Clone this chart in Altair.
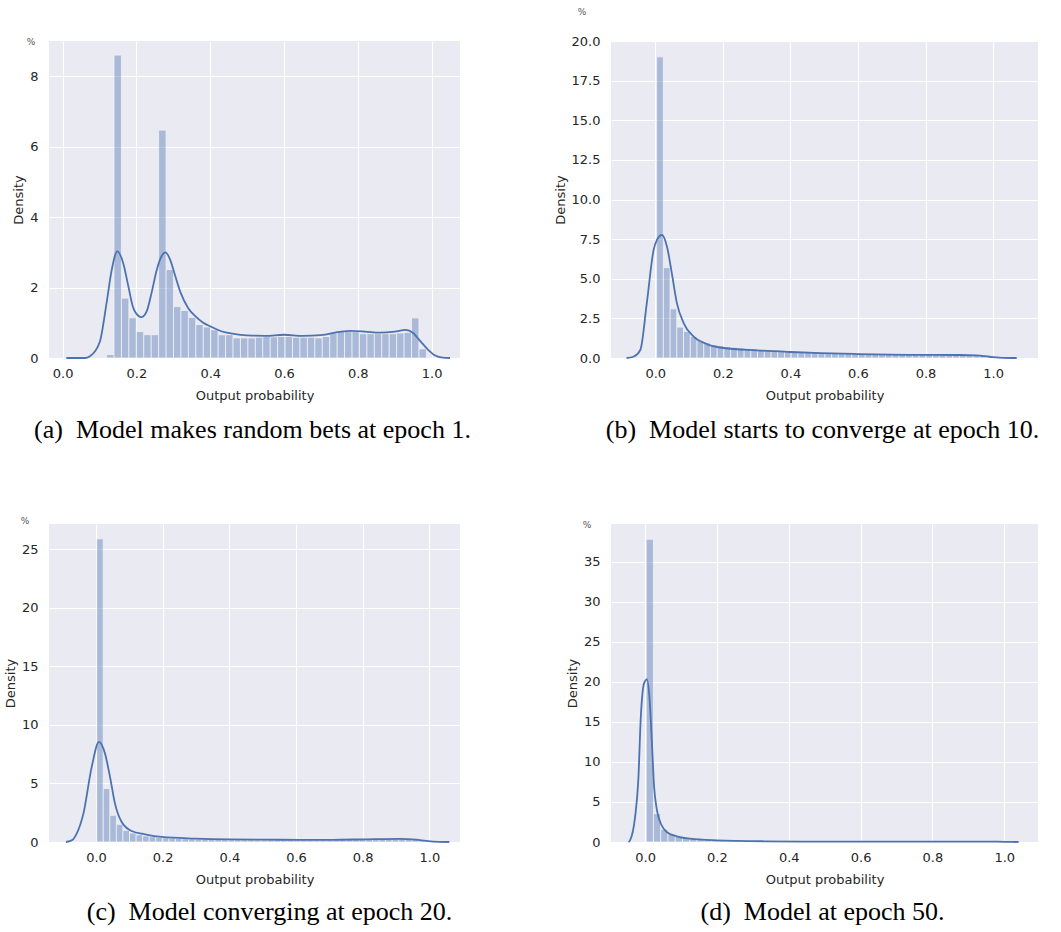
import altair as alt
import pandas as pd

BLUE = "#4C72B0"
BG = "#EAEAF2"
TXT = "#262626"

# ---------------- data ----------------
# (a) epoch 1
a_bin_start = 0.119
a_bin_width = 0.02016
a_heights = [0.10, 8.60, 1.70, 1.14, 0.75, 0.66, 0.66, 6.47, 2.51, 1.46, 1.35, 1.15, 0.95,
             0.88, 0.80, 0.66, 0.66, 0.57, 0.57, 0.57, 0.59, 0.61, 0.60, 0.61, 0.61, 0.59,
             0.59, 0.59, 0.57, 0.61, 0.71, 0.75, 0.75, 0.75, 0.69, 0.69, 0.69, 0.69, 0.69,
             0.71, 0.73, 1.14, 0.26]
a_kde_x = [0.01, 0.06, 0.074, 0.101, 0.119, 0.133, 0.148, 0.164, 0.178, 0.19, 0.205, 0.214,
           0.228, 0.241, 0.255, 0.268, 0.279, 0.291, 0.304, 0.32, 0.34, 0.36, 0.38, 0.40,
           0.43, 0.46, 0.50, 0.55, 0.60, 0.65, 0.70, 0.75, 0.78, 0.82, 0.86, 0.90, 0.93,
           0.95, 0.97, 0.99, 1.01, 1.03, 1.05]
a_kde_y = [0.0, 0.0, 0.05, 0.47, 1.56, 2.5, 3.03, 2.7, 2.04, 1.47, 1.2, 1.16, 1.33, 1.85,
           2.5, 2.89, 3.0, 2.8, 2.37, 1.85, 1.42, 1.18, 1.01, 0.9, 0.76, 0.69, 0.64, 0.63,
           0.66, 0.63, 0.65, 0.74, 0.77, 0.75, 0.72, 0.75, 0.8, 0.71, 0.47, 0.24, 0.07,
           0.01, 0.0]

# (b) epoch 10
b_bin_start = 0.004
b_bin_width = 0.01992
b_heights = [19.0, 5.7, 3.1, 1.95, 1.68, 1.36, 1.1, 0.95, 0.85, 0.78, 0.72, 0.68, 0.64,
             0.61, 0.58, 0.55, 0.52, 0.50, 0.48, 0.45, 0.43, 0.41, 0.39, 0.37, 0.35, 0.34,
             0.32, 0.31, 0.30, 0.29, 0.28, 0.27, 0.26, 0.25, 0.25, 0.24, 0.23, 0.23, 0.22,
             0.22, 0.21, 0.21, 0.21, 0.20, 0.20, 0.20, 0.20, 0.19, 0.18, 0.12]
b_kde_x = [-0.085, -0.065, -0.044, -0.025, -0.005, 0.005, 0.02, 0.035, 0.049, 0.064, 0.084,
           0.113, 0.153, 0.202, 0.30, 0.40, 0.49, 0.6, 0.75, 0.9, 0.95, 0.99, 1.03, 1.07]
b_kde_y = [0.0, 0.08, 0.52, 3.46, 6.8, 7.45, 7.76, 7.0, 5.35, 3.46, 2.2, 1.36, 0.88, 0.63,
           0.48, 0.38, 0.31, 0.25, 0.2, 0.19, 0.17, 0.08, 0.01, 0.0]

# (c) epoch 20
c_bin_start = 0.002
c_bin_width = 0.0197
c_heights = [25.9, 4.57, 2.28, 1.51, 1.0, 0.77, 0.62, 0.52, 0.45, 0.40, 0.36, 0.33, 0.30,
             0.28, 0.26, 0.25, 0.24, 0.23, 0.22, 0.21, 0.20, 0.20, 0.19, 0.19, 0.18, 0.18,
             0.18, 0.17, 0.17, 0.17, 0.17, 0.17, 0.17, 0.17, 0.17, 0.17, 0.18, 0.18, 0.19,
             0.20, 0.21, 0.22, 0.23, 0.24, 0.25, 0.26, 0.26, 0.25, 0.22, 0.12]
c_kde_x = [-0.09, -0.07, -0.058, -0.038, -0.013, 0.009, 0.027, 0.042, 0.057, 0.077, 0.107,
           0.147, 0.197, 0.297, 0.4, 0.507, 0.61, 0.71, 0.81, 0.91, 0.96, 0.99, 1.03, 1.06]
c_kde_y = [0.0, 0.2, 0.71, 2.4, 6.4, 8.55, 7.56, 5.56, 3.28, 1.71, 0.94, 0.66, 0.43, 0.29,
           0.22, 0.2, 0.19, 0.19, 0.23, 0.26, 0.2, 0.09, 0.01, 0.0]

# (d) epoch 50
d_bin_start = 0.003
d_bin_width = 0.0202
d_heights = [37.8, 3.54, 1.58, 0.96, 0.71, 0.55, 0.42, 0.33, 0.27, 0.22, 0.18, 0.15, 0.13,
             0.11, 0.10, 0.09, 0.08, 0.07, 0.07, 0.06, 0.06, 0.06, 0.05, 0.05, 0.05, 0.05,
             0.05, 0.05, 0.04, 0.04, 0.04, 0.04, 0.04, 0.04, 0.04, 0.04, 0.04, 0.04, 0.04,
             0.04, 0.04, 0.04, 0.04, 0.04, 0.04, 0.04, 0.05, 0.05, 0.05, 0.05, 0.03]
d_kde_x = [-0.046, -0.042, -0.028, -0.019, -0.012, -0.003, 0.005, 0.012, 0.019, 0.025,
           0.033, 0.046, 0.06, 0.088, 0.125, 0.2, 0.33, 0.5, 0.7, 0.9, 0.98, 1.02, 1.04]
d_kde_y = [0.0, 0.2, 3.1, 7.7, 15.6, 19.8, 20.3, 18.1, 12.3, 6.9, 3.96, 2.09, 1.25, 0.71,
           0.42, 0.21, 0.09, 0.05, 0.04, 0.04, 0.04, 0.01, 0.0]

x_ticks = [0.0, 0.2, 0.4, 0.6, 0.8, 1.0]
a_yticks = [0, 2, 4, 6, 8]
b_yticks = [0.0, 2.5, 5.0, 7.5, 10.0, 12.5, 15.0, 17.5, 20.0]
c_yticks = [0, 5, 10, 15, 20, 25]
d_yticks = [0, 5, 10, 15, 20, 25, 30, 35]

captions = ["(a)\u2002Model makes random bets at epoch 1.",
            "(b)\u2002Model starts to converge at epoch 10.",
            "(c)\u2002Model converging at epoch 20.",
            "(d)\u2002Model at epoch 50."]
x_title = "Output probability"
y_title = "Density"
corner_label = "%"


def panel(start, width, heights, kde_x, kde_y, xdom, ydom, yvals, yfmt, w, h,
          caption, pct_xy, cap_dx, cap_off):
    lo = [start + i * width for i in range(len(heights))]
    hist = pd.DataFrame({"lo": lo, "hi": [v + width for v in lo], "d": heights})
    kde = pd.DataFrame({"x": kde_x, "y": kde_y})
    xs = alt.Scale(domain=xdom, nice=False, zero=False)
    ys = alt.Scale(domain=ydom, nice=False, zero=True)
    xaxis = alt.Axis(values=x_ticks, format=".1f", title=x_title, labelOverlap=False)
    yaxis = alt.Axis(values=yvals, format=yfmt, title=y_title, labelOverlap=False,
                     tickCount=len(yvals))
    bars = alt.Chart(hist).mark_rect(
        color=BLUE, opacity=0.4, stroke="white", strokeWidth=0.8
    ).encode(
        x=alt.X("lo:Q", scale=xs, axis=xaxis),
        x2="hi:Q",
        y=alt.Y("d:Q", scale=ys, axis=yaxis),
        y2=alt.datum(0),
    )
    line = alt.Chart(kde).mark_line(
        color=BLUE, strokeWidth=1.8, interpolate="monotone"
    ).encode(x=alt.X("x:Q", scale=xs, axis=xaxis), y=alt.Y("y:Q", scale=ys, axis=yaxis))
    pct = alt.Chart(pd.DataFrame({"t": [corner_label]})).mark_text(
        fontSize=9, color="#555555", font="DejaVu Sans", align="center", baseline="middle"
    ).encode(text="t:N", x=alt.value(pct_xy[0]), y=alt.value(pct_xy[1]))
    return alt.layer(bars, line, pct).properties(
        width=w, height=h,
        title=alt.TitleParams(
            caption, orient="bottom", frame="group", anchor="middle", offset=cap_off,
            dx=cap_dx, font="Liberation Serif", fontSize=26, fontWeight="normal",
            color="black", baseline="middle"
        ),
    )


pa = panel(a_bin_start, a_bin_width, a_heights, a_kde_x, a_kde_y, [-0.037, 1.077], [0, 9.0],
           a_yticks, "d", 411, 317, captions[0], (-18, 1), -2, 28)
pb = panel(b_bin_start, b_bin_width, b_heights, b_kde_x, b_kde_y, [-0.131, 1.133], [0, 20.0],
           b_yticks, ".1f", 427, 317, captions[1], (-29, -29), -2, 28)
pc = panel(c_bin_start, c_bin_width, c_heights, c_kde_x, c_kde_y, [-0.141, 1.092], [0, 27.17],
           c_yticks, "d", 411, 318, captions[2], (-24, -3), 15, 26)
pd_ = panel(d_bin_start, d_bin_width, d_heights, d_kde_x, d_kde_y, [-0.095, 1.094], [0, 39.7],
            d_yticks, "d", 427, 318, captions[3], (-24, 1), -2, 26)

chart = alt.concat(
    pa, pb, pc, pd_, columns=2, spacing={"row": 166, "column": 151}, bounds="flush"
).properties(
    padding={"left": 4, "top": 8, "right": 5, "bottom": 5},
    background="white",
).configure_view(fill=BG, strokeWidth=0).configure_axis(
    grid=True, gridColor="white", gridWidth=1.1, domain=False, ticks=False,
    labelFont="DejaVu Sans", labelFontSize=13, labelColor=TXT, labelPadding=11,
    titleFont="DejaVu Sans", titleFontSize=13, titleFontWeight="normal", titleColor=TXT,
).configure_axisX(labelPadding=9, titlePadding=9).configure_axisY(titlePadding=4)

chart.save("out.html", embed_options={"renderer": "svg", "actions": False})
